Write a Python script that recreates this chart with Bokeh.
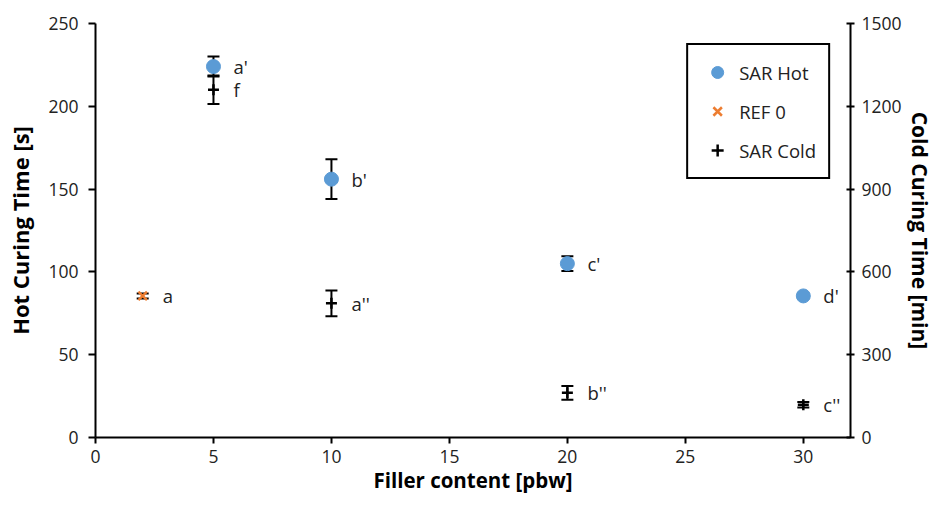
from bokeh.plotting import figure
from bokeh.models import (ColumnDataSource, Range1d, LinearAxis, FixedTicker, Whisker,
                          TeeHead, Legend, LegendItem)
from bokeh.core.properties import value
from bokeh.embed import file_html
from bokeh.resources import INLINE

# ---- data ----
hot_x = [5, 10, 20, 30]
hot_y = [224, 156, 105, 85.5]
hot_err = [6, 12, 4.5, 1.5]
hot_labels = ["a'", "b'", "c'", "d'"]

ref_x = [2]
ref_y = [85.5]
ref_err = [1.5]
ref_labels = ["a"]

cold_x = [5, 10, 20, 30]
cold_y = [1260, 486, 162, 119]
cold_err = [52, 47, 25, 10]
cold_labels = ["f", "a''", "b''", "c''"]

x_ticks = [0, 5, 10, 15, 20, 25, 30]
hot_ticks = [0, 50, 100, 150, 200, 250]
cold_ticks = [0, 300, 600, 900, 1200, 1500]

FONT = "Open Sans"
BLUE = "#5B9BD5"
ORANGE = "#ED7D31"

def src(x, y, e, lab):
    return ColumnDataSource(dict(x=x, y=y, lo=[a - b for a, b in zip(y, e)],
                                 hi=[a + b for a, b in zip(y, e)], lab=lab))

hot_src = src(hot_x, hot_y, hot_err, hot_labels)
ref_src = src(ref_x, ref_y, ref_err, ref_labels)
cold_src = src(cold_x, cold_y, cold_err, cold_labels)

p = figure(width=936, height=499, output_backend="svg", toolbar_location=None,
           x_range=Range1d(0, 32), y_range=Range1d(0, 250),
           min_border_left=95, min_border_right=86, min_border_top=23, min_border_bottom=62)
p.extra_y_ranges = {"cold": Range1d(0, 1500)}
p.outline_line_color = None
p.xgrid.visible = False
p.ygrid.visible = False
p.background_fill_color = "white"
p.border_fill_color = "white"

def style_axis(ax, title_size):
    ax.axis_line_color = "black"
    ax.axis_line_width = 2
    ax.major_tick_line_color = "black"
    ax.major_tick_line_width = 2
    ax.minor_tick_line_color = None
    ax.major_label_text_font = FONT
    ax.major_label_text_font_size = "17.5px"
    ax.major_label_text_color = "#222222"
    ax.axis_label_text_font = FONT
    ax.axis_label_text_font_style = "bold"
    ax.axis_label_text_font_size = title_size
    ax.axis_label_text_color = "black"

p.xaxis.ticker = FixedTicker(ticks=x_ticks)
p.yaxis.ticker = FixedTicker(ticks=hot_ticks)
p.xaxis.axis_label = "Filler content [pbw]"
p.yaxis.axis_label = "Hot Curing Time [s]"
style_axis(p.xaxis[0], "20.5px")
style_axis(p.yaxis[0], "22px")
p.xaxis.major_tick_in = 0
p.xaxis.major_tick_out = 6
p.xaxis.major_label_standoff = 6
p.xaxis.axis_label_standoff = 0
p.yaxis.major_tick_in = 0
p.yaxis.major_tick_out = 7
p.yaxis.major_label_standoff = 10
p.yaxis.axis_label_standoff = 10

rax = LinearAxis(y_range_name="cold", ticker=FixedTicker(ticks=cold_ticks),
                 axis_label="Cold Curing Time [min]")
style_axis(rax, "21px")
rax.major_tick_in = 4
rax.major_tick_out = 4
rax.major_label_standoff = 7
rax.axis_label_standoff = 1
p.add_layout(rax, "right")

# error bars
for s, rn in [(hot_src, "default"), (ref_src, "default"), (cold_src, "cold")]:
    w = Whisker(source=s, base="x", upper="hi", lower="lo", line_color="black", line_width=2,
                y_range_name=rn,
                upper_head=TeeHead(size=12, line_color="black", line_width=2),
                lower_head=TeeHead(size=12, line_color="black", line_width=2))
    p.add_layout(w)

r_hot = p.scatter("x", "y", source=hot_src, marker="circle", size=14,
                  fill_color=BLUE, line_color=BLUE)
r_ref = p.scatter("x", "y", source=ref_src, marker="x", size=12,
                  line_color=ORANGE, line_width=2.5)
r_cold = p.scatter("x", "y", source=cold_src, marker="cross", size=11,
                   line_color="black", line_width=2.5, y_range_name="cold")

for s, rn in [(hot_src, "default"), (ref_src, "default"), (cold_src, "cold")]:
    p.text("x", "y", text="lab", source=s, y_range_name=rn, x_offset=20,
           text_baseline="middle", text_align="left", text_font=value(FONT),
           text_font_size="18.5px", text_color="#222222")

legend = Legend(items=[LegendItem(label="SAR Hot", renderers=[r_hot]),
                       LegendItem(label="REF 0", renderers=[r_ref]),
                       LegendItem(label="SAR Cold", renderers=[r_cold])],
                location="top_right")
legend.margin = 20
legend.padding = 12
legend.spacing = 9
legend.label_height = 30
legend.glyph_height = 30
legend.glyph_width = 34
legend.label_standoff = 5
legend.label_text_font = FONT
legend.label_text_font_size = "18.5px"
legend.label_text_color = "#222222"
legend.border_line_color = "black"
legend.border_line_alpha = 1
legend.border_line_width = 2
legend.background_fill_color = "white"
legend.background_fill_alpha = 1
p.add_layout(legend, "center")

open("out.html", "w").write(file_html(p, INLINE))
